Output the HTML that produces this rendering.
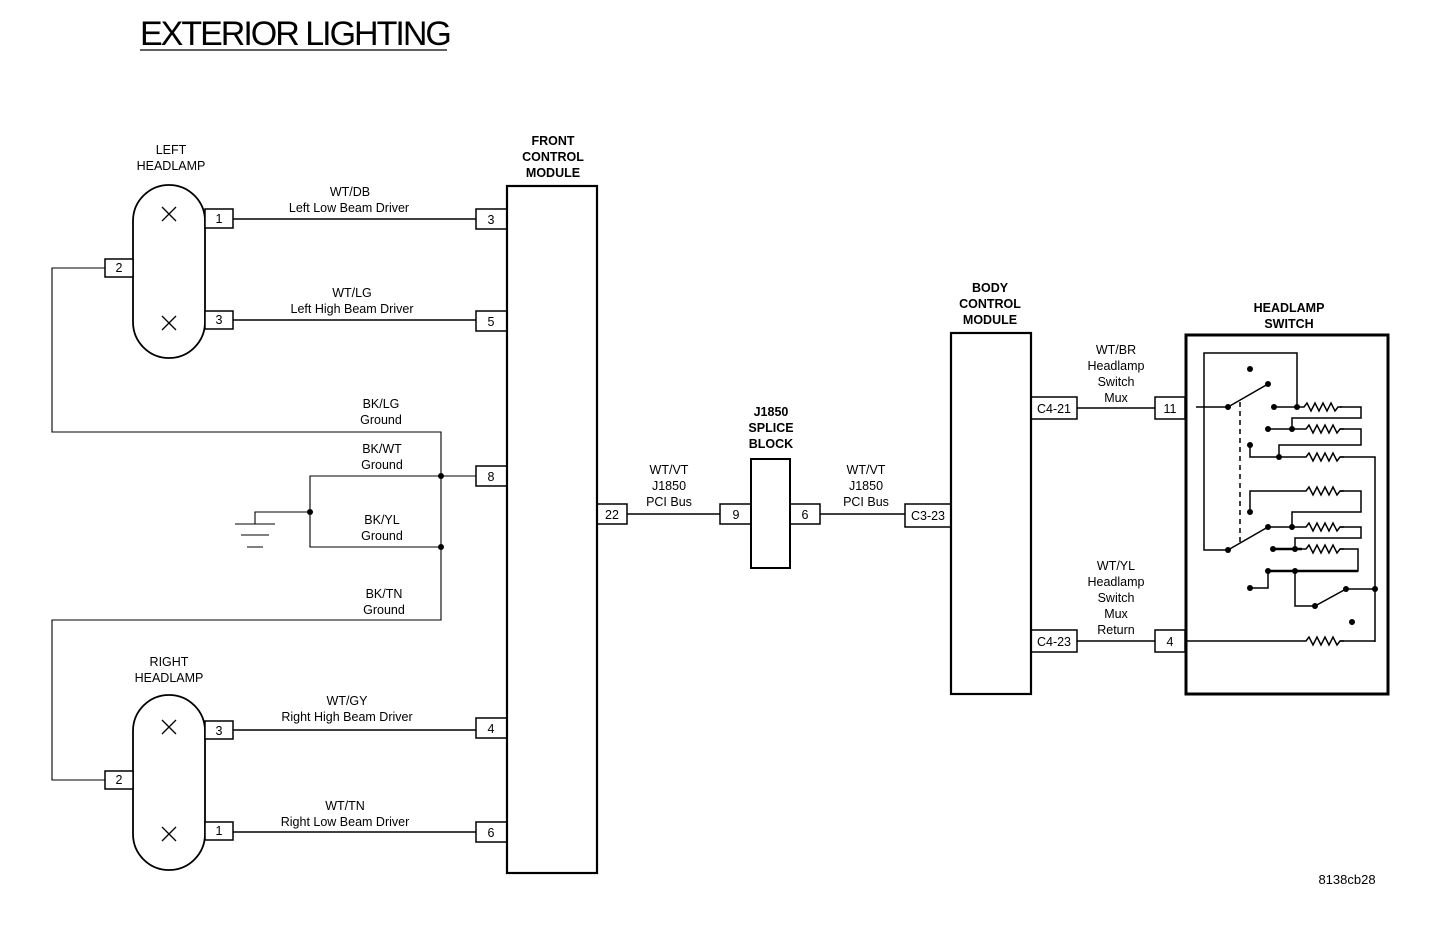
<!DOCTYPE html>
<html><head><meta charset="utf-8"><style>
html,body{margin:0;padding:0;background:#fff}
svg{display:block}
text{font-family:"Liberation Sans",Arial,sans-serif;font-size:12.5px;fill:#000}
.b{font-weight:bold}
</style></head><body>
<svg width="1440" height="928" viewBox="0 0 1440 928" xmlns="http://www.w3.org/2000/svg">
<defs>
<path id="res" d="M0,0 l4,0 l3,-4 l4,8 l4,-8 l4,8 l4,-8 l4,8 l4,-8 l4,8 l3,-4 l4,0" fill="none" stroke="#000" stroke-width="1.5"/>
</defs>
<text x="140" y="45" style="font-size:34px;letter-spacing:-2px">EXTERIOR LIGHTING</text>
<line x1="140" y1="50" x2="447" y2="50" stroke="#000" stroke-width="1.2"/>

<g fill="none" stroke="#000" stroke-width="1.5">
<rect x="133" y="185" width="72" height="173" rx="36" ry="36" stroke-width="1.8"/>
<rect x="205" y="209" width="28" height="19" fill="#fff"/>
<rect x="205" y="311" width="28" height="18" fill="#fff"/>
<rect x="105" y="259" width="28" height="18" fill="#fff"/>
<rect x="133" y="695" width="72" height="175" rx="36" ry="36" stroke-width="1.8"/>
<rect x="205" y="721" width="28" height="18" fill="#fff"/>
<rect x="205" y="822" width="28" height="18" fill="#fff"/>
<rect x="105" y="771" width="28" height="18" fill="#fff"/>
<path d="M162,207 l14,14 M176,207 l-14,14 M162,316 l14,14 M176,316 l-14,14 M162,720 l14,14 M176,720 l-14,14 M162,827 l14,14 M176,827 l-14,14" stroke-width="1.3"/>
<rect x="507" y="186" width="90" height="687" stroke-width="2.2"/>
<rect x="476" y="209" width="31" height="20"/>
<rect x="476" y="311" width="31" height="20"/>
<rect x="476" y="466" width="31" height="20"/>
<rect x="476" y="718" width="31" height="20"/>
<rect x="476" y="822" width="31" height="20"/>
<rect x="597" y="504" width="30" height="20"/>
<path d="M233,219 H476 M233,320 H476 M233,730 H476 M233,832 H476"/>
<path d="M105,268 H52 V432 H441 V620 H52 V780 H105" stroke-width="1.1"/>
<path d="M476,476 H310 V547 H441 M310,512 H255 V524" stroke-width="1.1"/>
<path d="M235,524 H275 M241,535 H269 M247,547 H263" stroke-width="1.1"/>
<path d="M627,514 H720 M820,514 H905"/>
<rect x="751" y="459" width="39" height="109" stroke-width="2"/>
<rect x="720" y="504" width="31" height="20"/>
<rect x="790" y="504" width="30" height="20"/>
<rect x="905" y="504" width="46" height="23"/>
<rect x="951" y="333" width="80" height="361" stroke-width="2.2"/>
<rect x="1031" y="397" width="46" height="22"/>
<rect x="1031" y="630" width="46" height="22"/>
<path d="M1077,408 H1155 M1077,641 H1155"/>
<rect x="1155" y="397" width="30" height="22"/>
<rect x="1155" y="630" width="30" height="22"/>
<rect x="1186" y="335" width="202" height="359" stroke-width="3"/>
<g stroke-width="1.5">
<path d="M1297,407 V353 H1204 V550 H1228"/>
<path d="M1196,407 H1228 L1268,384"/>
<path d="M1240,402 V543" stroke-dasharray="5,4"/>
<path d="M1274,407 H1300 M1340,407 H1361 V418 H1292 V429"/>
<path d="M1268,429 H1302 M1340,429 H1361 V445 H1279 V457"/>
<path d="M1250,445 V457 H1302 M1340,457 H1375 V642"/>
<path d="M1250,512 V491 H1302 M1340,491 H1361 V512 H1292 V527"/>
<path d="M1228,550 L1268,527 H1302 M1340,527 H1361 V538 H1295 V549"/>
<path d="M1273,549 H1302" stroke-width="2.5"/>
<path d="M1340,549 H1358 V571 H1268 V588 H1250"/>
<path d="M1268,571 H1358" stroke-width="2.5"/>
<path d="M1295,571 V606 H1315 L1346,589 H1375"/>
<path d="M1186,641 H1302 M1340,641 H1375"/>
</g>
</g>
<use href="#res" x="1300" y="407"/>
<use href="#res" x="1302" y="429"/>
<use href="#res" x="1302" y="457"/>
<use href="#res" x="1302" y="491"/>
<use href="#res" x="1302" y="527"/>
<use href="#res" x="1302" y="549"/>
<use href="#res" x="1302" y="641"/>
<g fill="#000">
<circle cx="441" cy="476" r="3"/><circle cx="441" cy="547" r="3"/><circle cx="310" cy="512" r="3"/>
<circle cx="1250" cy="369" r="3"/><circle cx="1228" cy="407" r="3"/><circle cx="1268" cy="384" r="3"/>
<circle cx="1274" cy="407" r="3"/><circle cx="1297" cy="407" r="3"/>
<circle cx="1268" cy="429" r="3"/><circle cx="1292" cy="429" r="3"/>
<circle cx="1250" cy="445" r="3"/><circle cx="1279" cy="457" r="3"/>
<circle cx="1250" cy="512" r="3"/>
<circle cx="1228" cy="550" r="3"/><circle cx="1268" cy="527" r="3"/><circle cx="1292" cy="527" r="3"/>
<circle cx="1273" cy="549" r="3"/><circle cx="1295" cy="549" r="3"/>
<circle cx="1268" cy="571" r="3"/><circle cx="1295" cy="571" r="3"/><circle cx="1250" cy="588" r="3"/>
<circle cx="1315" cy="606" r="3"/><circle cx="1346" cy="589" r="3"/><circle cx="1375" cy="589" r="3"/>
<circle cx="1352" cy="622" r="3"/>
</g>

<g text-anchor="middle">
<text x="171" y="154">LEFT</text><text x="171" y="170">HEADLAMP</text>
<text x="169" y="666">RIGHT</text><text x="169" y="682">HEADLAMP</text>
<text x="219" y="223">1</text><text x="219" y="324">3</text><text x="119" y="272">2</text>
<text x="219" y="735">3</text><text x="219" y="835">1</text><text x="119" y="784">2</text>
<text class="b" x="553" y="145">FRONT</text><text class="b" x="553" y="161">CONTROL</text><text class="b" x="553" y="177">MODULE</text>
<text x="491" y="224">3</text><text x="491" y="326">5</text><text x="491" y="481">8</text><text x="491" y="733">4</text><text x="491" y="837">6</text>
<text x="612" y="519">22</text>
<text x="350" y="196">WT/DB</text><text x="349" y="212">Left Low Beam Driver</text>
<text x="352" y="297">WT/LG</text><text x="352" y="313">Left High Beam Driver</text>
<text x="381" y="408">BK/LG</text><text x="381" y="424">Ground</text>
<text x="382" y="453">BK/WT</text><text x="382" y="469">Ground</text>
<text x="382" y="524">BK/YL</text><text x="382" y="540">Ground</text>
<text x="384" y="598">BK/TN</text><text x="384" y="614">Ground</text>
<text x="347" y="705">WT/GY</text><text x="347" y="721">Right High Beam Driver</text>
<text x="345" y="810">WT/TN</text><text x="345" y="826">Right Low Beam Driver</text>
<text x="669" y="474">WT/VT</text><text x="669" y="490">J1850</text><text x="669" y="506">PCI Bus</text>
<text x="866" y="474">WT/VT</text><text x="866" y="490">J1850</text><text x="866" y="506">PCI Bus</text>
<text class="b" x="771" y="416">J1850</text><text class="b" x="771" y="432">SPLICE</text><text class="b" x="771" y="448">BLOCK</text>
<text x="736" y="519">9</text><text x="805" y="519">6</text>
<text x="928" y="520">C3-23</text>
<text class="b" x="990" y="292">BODY</text><text class="b" x="990" y="308">CONTROL</text><text class="b" x="990" y="324">MODULE</text>
<text x="1054" y="413">C4-21</text><text x="1054" y="646">C4-23</text>
<text x="1170" y="413">11</text><text x="1170" y="646">4</text>
<text x="1116" y="354">WT/BR</text><text x="1116" y="370">Headlamp</text><text x="1116" y="386">Switch</text><text x="1116" y="402">Mux</text>
<text x="1116" y="570">WT/YL</text><text x="1116" y="586">Headlamp</text><text x="1116" y="602">Switch</text><text x="1116" y="618">Mux</text><text x="1116" y="634">Return</text>
<text class="b" x="1289" y="312">HEADLAMP</text><text class="b" x="1289" y="328">SWITCH</text>
<text x="1347" y="884" style="font-size:13px">8138cb28</text>
</g>
</svg>
</body></html>
